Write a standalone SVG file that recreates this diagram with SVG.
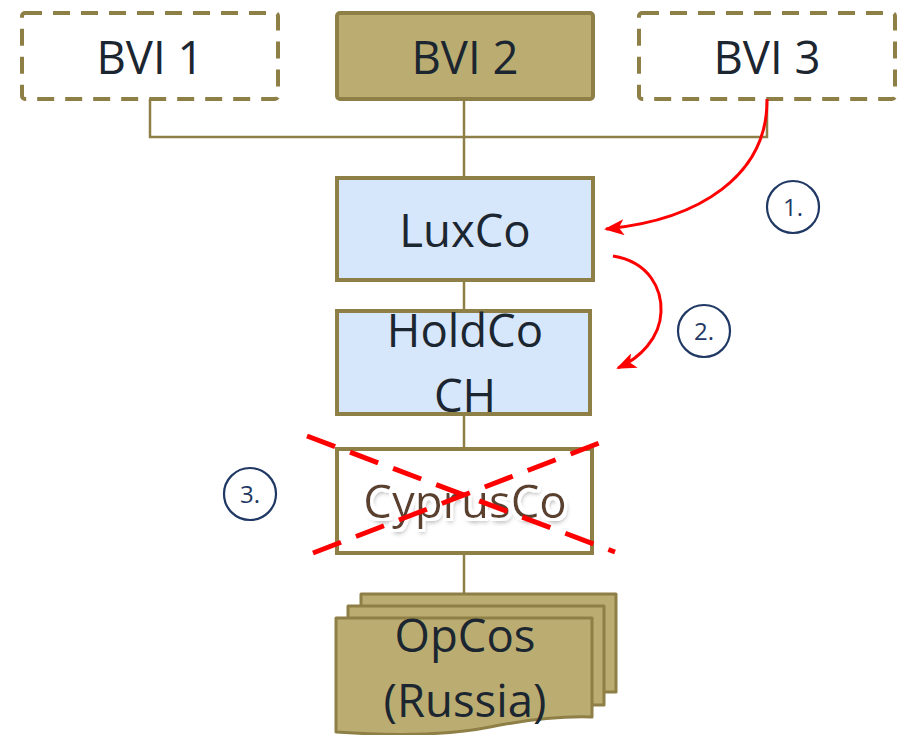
<svg xmlns="http://www.w3.org/2000/svg" width="899" height="735" viewBox="0 0 899 735">
<defs>
<style>
.lbl{font-family:"Open Sans","Liberation Sans",sans-serif;font-size:45.5px;fill:#1C2630;text-anchor:middle}
.num{font-family:"Open Sans","Liberation Sans",sans-serif;font-size:24px;fill:#1F3864;text-anchor:middle}
.circ{fill:#fff;stroke:#1F3864;stroke-width:2.2}
.olive{stroke:#8E7F47;stroke-width:4}
.conn{fill:none;stroke:#8E7F47;stroke-width:2.5}
.red{fill:none;stroke:#FF0000;stroke-width:3}
.xline{stroke:#FF0000;stroke-width:5;stroke-dasharray:30 16}
</style>
<marker id="ah" viewBox="0 0 20 16" refX="18" refY="8" markerWidth="20" markerHeight="16" markerUnits="userSpaceOnUse" orient="auto">
<path d="M0,0 L20,8 L0,16 L5,8 Z" fill="#FF0000"/>
</marker>
<filter id="glow" x="-10%" y="-30%" width="120%" height="160%">
<feMorphology in="SourceAlpha" operator="dilate" radius="3" result="d"/>
<feFlood flood-color="#ffffff"/>
<feComposite in2="d" operator="in" result="w"/>
<feGaussianBlur in="SourceAlpha" stdDeviation="2.5" result="b"/>
<feOffset in="b" dx="2" dy="4" result="o"/>
<feFlood flood-color="#000" flood-opacity="0.45"/>
<feComposite in2="o" operator="in" result="s"/>
<feMerge><feMergeNode in="s"/><feMergeNode in="w"/><feMergeNode in="SourceGraphic"/></feMerge>
</filter>
</defs>
<rect width="899" height="735" fill="#fff"/>

<g id="connectors">
<path class="conn" d="M150,99 V137 H767 V99"/>
<path class="conn" d="M464,99 V178"/>
<path class="conn" d="M464,280 V311"/>
<path class="conn" d="M464,414 V449"/>
<path class="conn" d="M464,553 V618"/>
</g>

<g id="bvi1">
<rect x="22" y="13" width="256" height="86" rx="3" fill="#fff" class="olive" stroke-dasharray="17 11"/>
<text class="lbl" x="150" y="74">BVI 1</text>
</g>
<g id="bvi2">
<rect x="337" y="13" width="256" height="86" rx="3" fill="#BBAD71" class="olive"/>
<text class="lbl" x="465" y="74">BVI 2</text>
</g>
<g id="bvi3">
<rect x="639" y="13" width="256" height="86" rx="3" fill="#fff" class="olive" stroke-dasharray="17 11"/>
<text class="lbl" x="767" y="74">BVI 3</text>
</g>

<g id="luxco">
<rect x="337" y="178" width="256" height="102" fill="#D6E7FB" class="olive" stroke-width="3.5"/>
<text class="lbl" x="465" y="247">LuxCo</text>
</g>
<g id="holdco">
<rect x="337" y="311" width="253" height="103" fill="#D6E7FB" class="olive" stroke-width="3.5"/>
<text class="lbl" x="465" y="347">HoldCo</text>
<text class="lbl" x="465" y="412">CH</text>
</g>
<g id="cyprusco">
<rect x="337" y="449" width="255" height="104" fill="#fff" class="olive" stroke-width="3.5"/>
<text class="lbl" x="465" y="518" style="fill:#5B3F2E" filter="url(#glow)">CyprusCo</text>
<line class="xline" x1="307" y1="436" x2="615" y2="552"/>
<line class="xline" x1="313" y1="553" x2="607" y2="440"/>
</g>
<g id="opcos">
<path d="M361,594 H616 V692 H361 Z" fill="#BBAD71" stroke="#8E7F47" stroke-width="3" stroke-linejoin="round"/>
<path d="M348,606 H604 V705 H348 Z" fill="#BBAD71" stroke="#8E7F47" stroke-width="3" stroke-linejoin="round"/>
<path d="M336,618 H592 V717 C560,716 530,719 490,727 C440,737 380,735 336,732 Z" fill="#BBAD71" stroke="#8E7F47" stroke-width="3" stroke-linejoin="round"/>
<text class="lbl" x="465" y="652">OpCos</text>
<text class="lbl" x="465" y="717">(Russia)</text>
</g>

<g id="arrows">
<path class="red" d="M767,99 C768,175 700,220 606,229" marker-end="url(#ah)"/>
<path class="red" d="M613,256 C650,262 662,290 661,312 C660,338 640,358 618,368" marker-end="url(#ah)"/>
</g>

<g id="step1"><circle class="circ" cx="793" cy="207" r="26"/><text class="num" x="793" y="216">1.</text></g>
<g id="step2"><circle class="circ" cx="704" cy="331" r="26"/><text class="num" x="704" y="340">2.</text></g>
<g id="step3"><circle class="circ" cx="250" cy="494" r="26"/><text class="num" x="250" y="503">3.</text></g>
</svg>
